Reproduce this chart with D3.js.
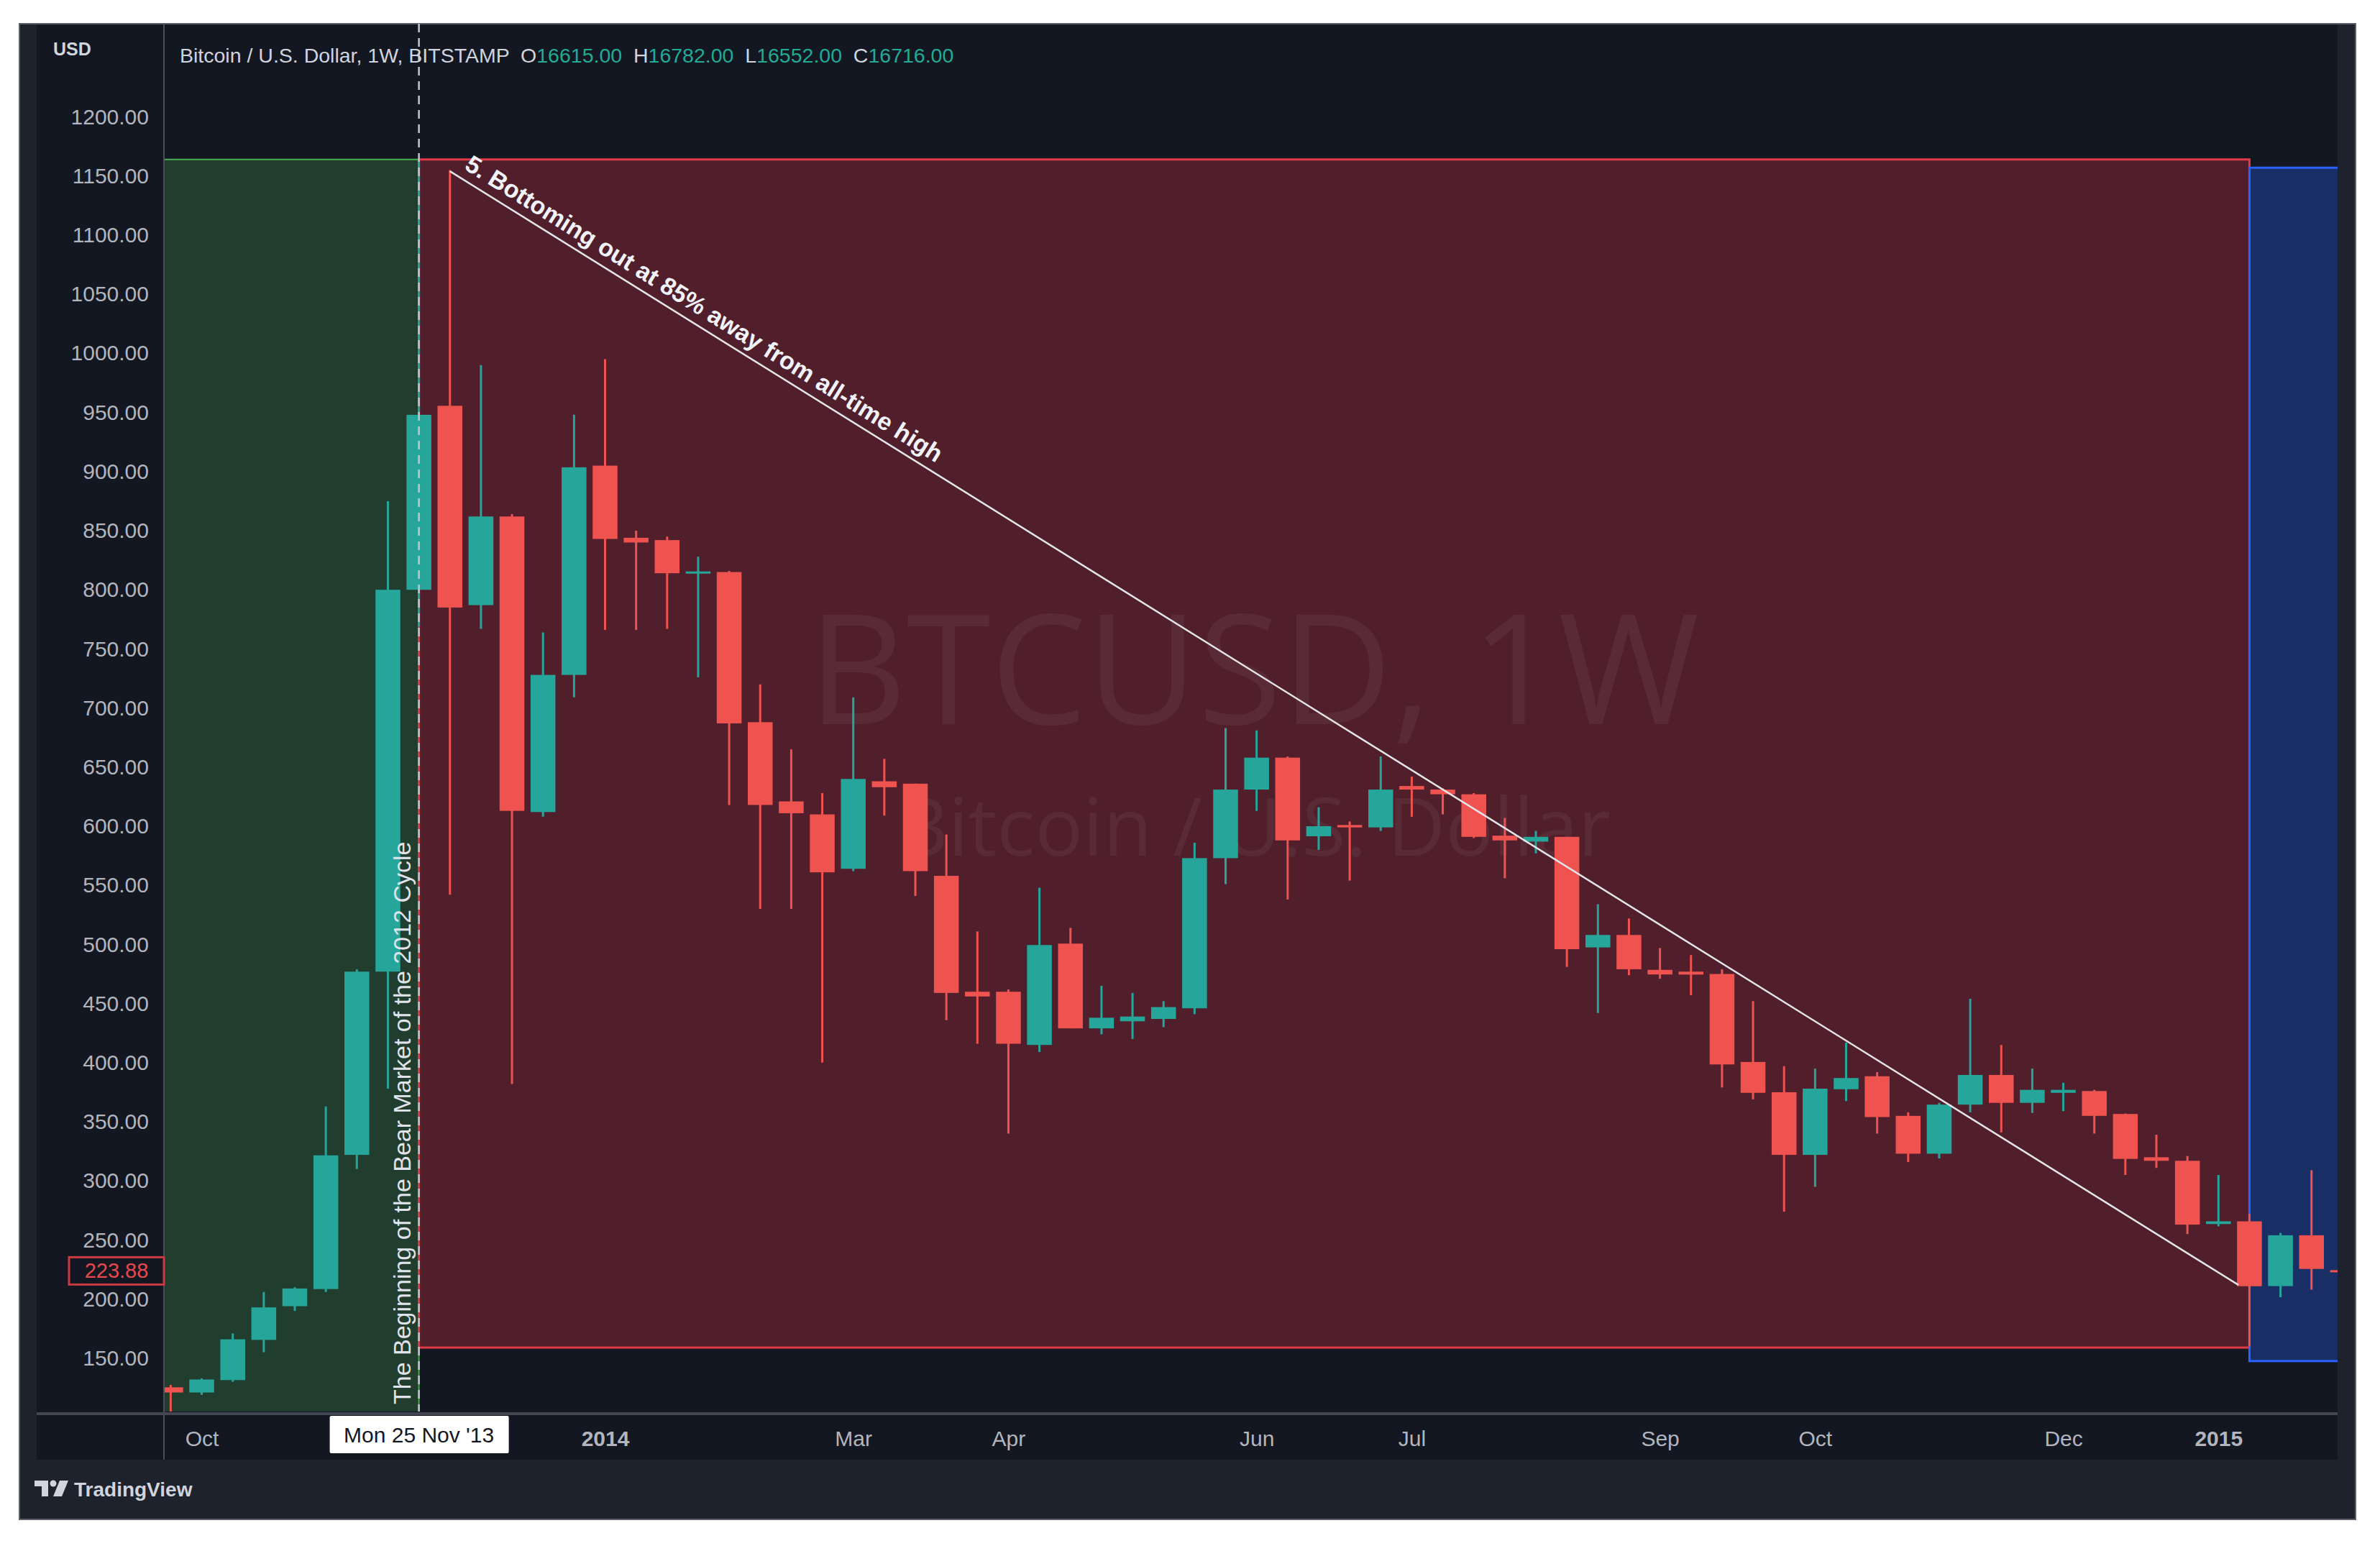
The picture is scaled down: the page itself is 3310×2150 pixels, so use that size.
<!DOCTYPE html>
<html>
<head>
<meta charset="utf-8">
<script src="https://cdn.jsdelivr.net/npm/d3@7"></script>
<style>
  html, body { margin: 0; padding: 0; background: #ffffff; }
  svg { display: block; }
</style>
</head>
<body>
<div id="chart"></div>
<script>
// BTCUSD weekly candles (Bitstamp)
var weeks = ["2013-09-30","2013-10-07","2013-10-14","2013-10-21","2013-10-28","2013-11-04","2013-11-11","2013-11-18","2013-11-25",
  "2013-12-02","2013-12-09","2013-12-16","2013-12-23","2013-12-30","2014-01-06","2014-01-13","2014-01-20","2014-01-27",
  "2014-02-03","2014-02-10","2014-02-17","2014-02-24","2014-03-03","2014-03-10","2014-03-17","2014-03-24","2014-03-31",
  "2014-04-07","2014-04-14","2014-04-21","2014-04-28","2014-05-05","2014-05-12","2014-05-19","2014-05-26","2014-06-02",
  "2014-06-09","2014-06-16","2014-06-23","2014-06-30","2014-07-07","2014-07-14","2014-07-21","2014-07-28","2014-08-04",
  "2014-08-11","2014-08-18","2014-08-25","2014-09-01","2014-09-08","2014-09-15","2014-09-22","2014-09-29","2014-10-06",
  "2014-10-13","2014-10-20","2014-10-27","2014-11-03","2014-11-10","2014-11-17","2014-11-24","2014-12-01","2014-12-08",
  "2014-12-15","2014-12-22","2014-12-29","2015-01-05","2015-01-12","2015-01-19","2015-01-26","2015-02-02"];
var opens = [125.4,121,131.5,165.5,194,208.5,322,477,800,
  955.6,787,862,612,728,905,844,842,814,
  815,688,621,610,564,638,636,558,460,
  460,415,500.7,429,435,437,446,573,631,
  658,591.5,601,599,634,631,627,592,587,
  591,497.5,508,478.5,477,475,400.6,375,322,
  377.5,388.5,355,323,364.5,389.6,366,374.5,376,
  356.6,320,317,263.5,265.8,211,254,224.5];
var highs = [127.4,133,171,206,210,363,479,875,1163,
  1155,990,864,764,948,995,850,845,828,
  816,720,665,628,709,657,636,593,511,
  462,548,514,465,459,452,586,683,681,
  659,616,604,659,642,632,628,607,596,
  591,534,522,497,491,479,452,397,395,
  417,392,358,366,454,415,395,383,377,
  357,339,321,305,272,256,309,225];
var lows = [100,119,130,155,190,206,310,378,769,
  542,767,382,608,709,766,766,767,726,
  618,530,530,400,562,609,541,436,416,
  340,409,429,424,420,430,441,551,613,
  538,580,554,596,608,610,590,556,577,
  481,442,474,471,457,379,369,274,295,
  367.5,340,316,319,358,341,357.5,359,340,
  305,311,255,261.6,160,201.6,208,223];
var closes = [121,132,166,193,209,321.6,477,800,948,
  785,862,613,728,903.6,843,840,814,815.5,
  687,618,611,561,640,633,562,459,456,
  416,499.5,429,438,439,447,573,631,658,
  588,600,599,631,631,627,591,588,591,
  496,508,479,474.6,474.5,398.5,374.5,322,378,
  387,354,323,364.5,389.6,366,377,377,355,
  318.6,317,263,265.8,210.9,254,225.5,223.88];

var priceTicks = [150,200,250,300,350,400,450,500,550,600,650,700,750,800,850,900,950,1000,1050,1100,1150,1200];
var timeTickDates = ["2013-10-07","2014-01-06","2014-03-03","2014-04-07","2014-06-02","2014-07-07","2014-09-01","2014-10-06","2014-12-01","2015-01-05"];
var timeTickLabels = ["Oct","2014","Mar","Apr","Jun","Jul","Sep","Oct","Dec","2015"];
var lastPrice = 223.88;
var cursorDate = "2013-11-25";

// drawings on the chart: [start, end, top price, bottom price]
var zoneStart = ["2013-09-02","2013-11-25","2015-01-12"];
var zoneEnd = ["2013-11-25","2015-01-12","2015-02-23"];
var zoneTop = [1164,1164,1157];
var zoneBottom = [90,159,147.6];
var trendDates = ["2013-12-02","2015-01-09T12:00"];
var trendPrices = [1154,212];

var W = 3310, H = 2150;
var plotL = 228, plotR = 3251, plotT = 33, plotB = 1963;
var upCol = "#26a69a", downCol = "#ef5350";
var uiFont = "'Liberation Sans', Arial, sans-serif";

var parse = function(s) { return s.length > 10 ? d3.utcParse("%Y-%m-%dT%H:%M")(s) : d3.utcParse("%Y-%m-%d")(s); };

var candles = weeks.map(function(w, i) {
  return {date: parse(w), o: opens[i], h: highs[i], l: lows[i], c: closes[i]};
});

var x = d3.scaleUtc()
  .domain([candles[0].date, candles[candles.length - 1].date])
  .range([237.4, 3257.9]);
var step = x(candles[1].date) - x(candles[0].date);
var bodyW = step * 0.8;

var y = d3.scaleLinear()
  .domain([104.9, 1278.8])
  .range([plotB, plotT]);

var svg = d3.select("#chart").append("svg")
  .attr("width", W)
  .attr("height", H);

// frame + panes
svg.append("rect")
  .attr("x", 27).attr("y", 33).attr("width", 3249).attr("height", 2080)
  .attr("fill", "#1e222d")
  .attr("stroke", "#5d606b").attr("stroke-width", 2);
svg.append("rect")
  .attr("x", 51).attr("y", 34).attr("width", 3200).attr("height", 1996)
  .attr("fill", "#131722");

svg.append("defs").append("clipPath").attr("id", "plot")
  .append("rect")
  .attr("x", plotL + 1).attr("y", plotT + 1)
  .attr("width", plotR - plotL - 1).attr("height", plotB - plotT - 1);

var plot = svg.append("g").attr("clip-path", "url(#plot)");

// rectangles
var zoneFill = ["rgba(76,175,80,0.25)", "rgba(242,54,69,0.28)", "rgba(41,98,255,0.3)"];
var zoneStroke = ["#4caf50", "#e03a46", "#2962ff"];
zoneStart.forEach(function(s, i) {
  plot.append("rect")
    .attr("x", x(parse(s)))
    .attr("y", y(zoneTop[i]))
    .attr("width", x(parse(zoneEnd[i])) - x(parse(s)))
    .attr("height", y(zoneBottom[i]) - y(zoneTop[i]))
    .attr("fill", zoneFill[i])
    .attr("stroke", zoneStroke[i])
    .attr("stroke-width", i == 0 ? 2 : 3);
});

// watermark
var wmX = (plotL + plotR) / 2 + 4;
plot.append("text")
  .attr("x", wmX).attr("y", 1007)
  .attr("text-anchor", "middle")
  .attr("font-family", "'Open Sans', sans-serif")
  .attr("font-size", 212)
  .attr("fill", "rgba(255,255,255,0.055)")
  .text("BTCUSD, 1W");
plot.append("text")
  .attr("x", wmX).attr("y", 1190)
  .attr("text-anchor", "middle")
  .attr("font-family", "'Open Sans', sans-serif")
  .attr("font-size", 111)
  .attr("fill", "rgba(255,255,255,0.055)")
  .text("Bitcoin / U.S. Dollar");

// dashed vertical marker at the cycle top
svg.append("line")
  .attr("x1", x(parse(cursorDate))).attr("x2", x(parse(cursorDate)))
  .attr("y1", plotT).attr("y2", plotB)
  .attr("stroke", "#c3c6ce")
  .attr("stroke-width", 2.5)
  .attr("stroke-dasharray", "12,8");

// candles
var g = plot.selectAll(".candle")
  .data(candles)
  .enter().append("g")
  .attr("class", "candle");

g.append("line")
  .attr("x1", function(d) { return x(d.date); })
  .attr("x2", function(d) { return x(d.date); })
  .attr("y1", function(d) { return y(d.h); })
  .attr("y2", function(d) { return y(d.l); })
  .attr("stroke", function(d) { return d.c >= d.o ? upCol : downCol; })
  .attr("stroke-width", 3);

g.append("rect")
  .attr("x", function(d) { return x(d.date) - bodyW / 2; })
  .attr("width", bodyW)
  .attr("y", function(d) { return y(Math.max(d.o, d.c)); })
  .attr("height", function(d) { return Math.max(3, Math.abs(y(d.o) - y(d.c))); })
  .attr("fill", function(d) { return d.c >= d.o ? upCol : downCol; });

// trend line + its label
var p1 = [x(parse(trendDates[0])), y(trendPrices[0])];
var p2 = [x(parse(trendDates[1])), y(trendPrices[1])];
plot.append("line")
  .attr("x1", p1[0]).attr("y1", p1[1])
  .attr("x2", p2[0]).attr("y2", p2[1])
  .attr("stroke", "#e3e5ea")
  .attr("stroke-width", 2.5);

var ang = Math.atan2(p2[1] - p1[1], p2[0] - p1[0]);
var tx = p1[0] + 14 * Math.cos(ang) + 13 * Math.sin(ang);
var ty = p1[1] + 14 * Math.sin(ang) - 13 * Math.cos(ang);
plot.append("text")
  .attr("transform", "translate(" + tx + "," + ty + ") rotate(" + (ang * 180 / Math.PI) + ")")
  .attr("font-family", uiFont)
  .attr("font-weight", "bold")
  .attr("font-size", 34)
  .attr("fill", "#f0f3fa")
  .text("5. Bottoming out at 85% away from all-time high");

// vertical note along the marker
plot.append("text")
  .attr("transform", "translate(" + (x(parse(cursorDate)) - 12) + "," + 1953 + ") rotate(-90)")
  .attr("font-family", uiFont)
  .attr("font-size", 34)
  .attr("fill", "#e0e3eb")
  .text("The Beginning of the Bear Market of the 2012 Cycle");

// axes separators
svg.append("line")
  .attr("x1", plotL).attr("x2", plotL).attr("y1", plotT).attr("y2", 2030)
  .attr("stroke", "#4a4e59").attr("stroke-width", 2);
svg.append("line")
  .attr("x1", 51).attr("x2", plotR).attr("y1", 1966).attr("y2", 1966)
  .attr("stroke", "#434651").attr("stroke-width", 4);

// price axis
var yAxis = svg.append("g").attr("transform", "translate(207,0)")
  .call(d3.axisLeft(y).tickValues(priceTicks).tickSize(0).tickPadding(0)
    .tickFormat(function(d) { return d3.format(".2f")(d); }));
yAxis.select(".domain").remove();
yAxis.selectAll("text")
  .attr("font-family", uiFont)
  .attr("font-size", 30)
  .attr("fill", "#b2b5be")
  .attr("text-anchor", "end");

// last price tag
svg.append("rect")
  .attr("x", 96).attr("y", y(lastPrice) - 19)
  .attr("width", 132).attr("height", 38)
  .attr("fill", "#131722")
  .attr("stroke", "#c93a41").attr("stroke-width", 3);
svg.append("text")
  .attr("x", 162).attr("y", y(lastPrice) + 10)
  .attr("text-anchor", "middle")
  .attr("font-family", uiFont)
  .attr("font-size", 29)
  .attr("fill", "#e5484e")
  .text(d3.format(".2f")(lastPrice));

svg.append("text")
  .attr("x", 74).attr("y", 77)
  .attr("font-family", uiFont)
  .attr("font-weight", "bold")
  .attr("font-size", 25)
  .attr("fill", "#d1d4dc")
  .text("USD");

// time axis
var xAxis = svg.append("g").attr("transform", "translate(0,1966)")
  .call(d3.axisBottom(x).tickValues(timeTickDates.map(parse)).tickSize(0).tickPadding(0)
    .tickFormat(function(d, i) { return timeTickLabels[i]; }));
xAxis.select(".domain").remove();
xAxis.selectAll("text")
  .attr("dy", null)
  .attr("y", 45)
  .attr("font-family", uiFont)
  .attr("font-size", 30)
  .attr("font-weight", function(d, i) { return /^\d+$/.test(timeTickLabels[i]) ? "bold" : "normal"; })
  .attr("fill", "#b2b5be");

// cursor date label
var cx = x(parse(cursorDate));
svg.append("rect")
  .attr("x", cx - 124).attr("y", 1969)
  .attr("width", 249).attr("height", 52)
  .attr("rx", 2)
  .attr("fill", "#ffffff");
svg.append("text")
  .attr("x", cx).attr("y", 2006)
  .attr("text-anchor", "middle")
  .attr("font-family", uiFont)
  .attr("font-size", 30)
  .attr("fill", "#131722")
  .text("Mon 25 Nov '13");

// legend
var legend = svg.append("text")
  .attr("x", 250).attr("y", 87)
  .attr("font-family", uiFont)
  .attr("font-size", 28.5)
  .attr("fill", "#d1d4dc")
  .style("white-space", "pre");
legend.append("tspan").text("Bitcoin / U.S. Dollar, 1W, BITSTAMP  ");
[["O", "16615.00"], ["H", "16782.00"], ["L", "16552.00"], ["C", "16716.00"]].forEach(function(p) {
  legend.append("tspan").text(p[0]);
  legend.append("tspan").attr("fill", "#22ab94").text(p[1] + "  ");
});

// footer logo
var logo = svg.append("g").attr("fill", "#d1d4dc");
logo.append("path").attr("d", "M48,2059 H67 V2081 H58 V2067 H48 Z");
logo.append("circle").attr("cx", 74).attr("cy", 2063).attr("r", 4.5);
logo.append("path").attr("d", "M83,2059 H95 L86,2081 H74 Z");
svg.append("text")
  .attr("x", 103).attr("y", 2081)
  .attr("font-family", uiFont)
  .attr("font-weight", "bold")
  .attr("font-size", 28)
  .attr("fill", "#d1d4dc")
  .text("TradingView");
</script>
</body>
</html>
